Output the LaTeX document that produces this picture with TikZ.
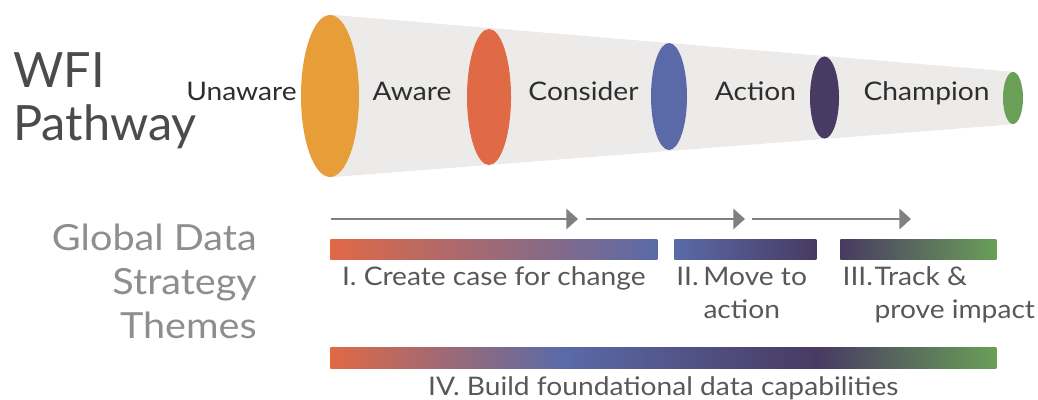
\documentclass[tikz,border=0pt]{standalone}
\usepackage{fontspec}
\setmainfont{Lato}[FakeStretch=1.1]
\newfontfamily\wfTitleFont{Lato}
\usepackage{xcolor}
\usepackage{tikz}
\usetikzlibrary{arrows.meta,positioning,shapes.geometric,backgrounds}

\definecolor{wfOrange}{HTML}{E89E38}
\definecolor{wfRed}{HTML}{E06946}
\definecolor{wfBlue}{HTML}{5A6AA8}
\definecolor{wfPurple}{HTML}{483A62}
\definecolor{wfGreen}{HTML}{6A9F58}
\definecolor{wfCone}{HTML}{ECEBE9}
\definecolor{wfArrow}{HTML}{808080}
\definecolor{wfTitle}{HTML}{4D4A4B}
\definecolor{wfSub}{HTML}{8E8E8E}
\definecolor{wfLabel}{HTML}{58585A}
\definecolor{wfStage}{HTML}{2E2E2E}
\pgfdeclarehorizontalshading{wfFull}{100bp}{color(0bp)=(wfRed); color(25bp)=(wfRed); color(42.5bp)=(wfBlue); color(61.6bp)=(wfPurple); color(75bp)=(wfGreen); color(100bp)=(wfGreen)}

\begin{document}
\begin{tikzpicture}[x=0.025cm,y=-0.025cm,
  oval/.style={ellipse,inner sep=0pt,draw=none},
  stage/.style={font=\fontsize{18.2}{20}\selectfont,text=wfStage,anchor=base,inner sep=0pt},
  flow/.style={wfArrow,line width=2.1pt,-{Triangle[length=0.29cm,width=0.5cm]}},
  bar/.style={minimum height=0.5cm,inner sep=0pt,anchor=north west},
  theme/.style={font=\fontsize{18.2}{23.5}\selectfont,text=wfLabel,inner sep=0pt}]
\useasboundingbox (0,0) rectangle (1038,400);

% headings
\node[anchor=base west,inner sep=0pt,text=wfTitle,font=\wfTitleFont\fontsize{34.6}{37}\selectfont] (title) at (13,88)
  {\begin{tabular}[t]{@{}l@{}}WFI\\Pathway\end{tabular}};
\node[anchor=base east,inner sep=0pt,text=wfSub,font=\fontsize{25.6}{31.3}\selectfont] (gds) at (257,250)
  {\begin{tabular}[t]{@{}r@{}}Global Data\\Strategy\\Themes\end{tabular}};

% funnel
\node[oval,fill=wfOrange,minimum width=1.45cm,minimum height=4.05cm] (ov1) at (330,96) {};
\node[oval,fill=wfRed,minimum width=1.1cm,minimum height=3.4cm] (ov2) at (489,97) {};
\node[oval,fill=wfBlue,minimum width=0.9cm,minimum height=2.675cm] (ov3) at (669,96.5) {};
\node[oval,fill=wfPurple,minimum width=0.725cm,minimum height=2.05cm] (ov4) at (824.5,97.5) {};
\node[oval,fill=wfGreen,minimum width=0.5cm,minimum height=1.3cm] (ov5) at (1013,98) {};
\begin{scope}[on background layer]
\fill[wfCone] (ov1.north) -- (ov5.north) -- (ov5.south) -- (ov1.south) -- cycle;
\end{scope}

\node[stage] (lUnaware) at (241.5,101) {Unaware};
\node[stage] (lAware) at (412,101) {Aware};
\node[stage] (lConsider) at (583.5,101) {Consider};
\node[stage] (lAction) at (755.5,101) {Action};
\node[stage] (lChampion) at (926.5,101) {Champion};

% arrows
\coordinate (a0) at (331,219);
\coordinate (a1) at (578,219);
\coordinate (a2) at (586,219);
\coordinate (a3) at (745,219);
\coordinate (a4) at (752,219);
\coordinate (a5) at (911,219);
\draw[flow] (a0) -- (a1);
\draw[flow] (a2) -- (a3);
\draw[flow] (a4) -- (a5);

% themes
\node[bar,minimum width=8.175cm,left color=wfRed,right color=wfBlue] (barI) at (330,239) {};
\node[bar,minimum width=3.55cm,left color=wfBlue,right color=wfPurple] (barII) at (674,239) {};
\node[bar,minimum width=3.9cm,left color=wfPurple,right color=wfGreen] (barIII) at (840,239) {};
\node[bar,minimum width=16.65cm,minimum height=0.525cm,shading=wfFull] (barIV) at (330,347) {};

\node[theme,anchor=base] (tI) at ([yshift=-0.65cm]barI.south) {I. Create case for change};
\node[theme,anchor=base west] (tII) at ([xshift=0.05cm,yshift=-0.65cm]barII.south west)
  {\begin{tabular}[t]{@{}l@{\hspace{0.12cm}}l@{}}II.&Move to\\&action\end{tabular}};
\node[theme,anchor=base west] (tIII) at ([xshift=0.06cm,yshift=-0.65cm]barIII.south west)
  {\begin{tabular}[t]{@{}l@{\hspace{0.04cm}}l@{}}III.&Track \&\\&prove impact\end{tabular}};
\node[theme,anchor=base] (tIV) at ([yshift=-0.675cm]barIV.south) {IV. Build foundational data capabilities};
\end{tikzpicture}
\end{document}
